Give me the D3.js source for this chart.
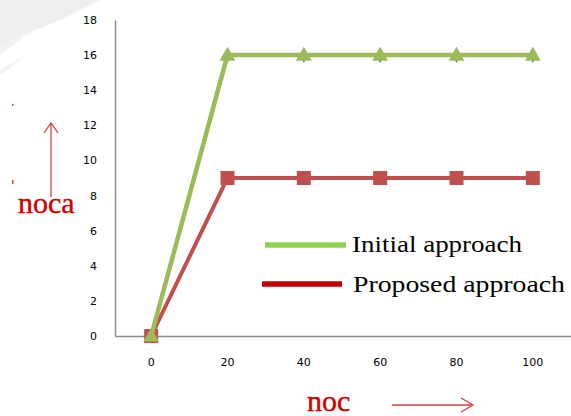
<!DOCTYPE html>
<html><head><meta charset="utf-8">
<script src="https://cdn.jsdelivr.net/npm/d3@7"></script>
<style>body{margin:0;background:#fff}svg{display:block}</style>
</head><body>
<svg id="c" width="571" height="416"></svg>
<script>
const categories = ["0","20","40","60","80","100"];
const hiddenSeries = [0,16,16,16,16,16];
const initialApproach = [0,16,16,16,16,16];
const proposedApproach = [0,9,9,9,9,9];
const yTicks = [0,2,4,6,8,10,12,14,16,18];

(function(){
const svg = d3.select("#c");
// page curl decoration
svg.append("path").attr("d","M0,0 L100,0 L60,20 L0,45 Z").attr("fill","#eeeeee");
svg.append("path").attr("d","M0,45 L30,30 L20,40 L0,55 Z").attr("fill","#f2f2f2");
svg.append("path").attr("d","M0,70 L25,55 L10,68 L0,75 Z").attr("fill","#f4f4f4");

const pL=115, pR=573, pT=20, pB=336;
const x = d3.scaleBand().domain(categories).range([pL,pR]);
const y = d3.scaleLinear().domain([0,18]).range([pB,pT]);
const cx = c => x(c)+x.bandwidth()/2 - 2;

// axes
const yAxis = svg.append("g").attr("transform",`translate(${pL},0)`)
  .call(d3.axisLeft(y).tickValues(yTicks).tickSize(0).tickPadding(18));
yAxis.select(".domain").attr("stroke","#8c8c8c").attr("stroke-width",1.5);
yAxis.selectAll("text").attr("font-family","'DejaVu Sans', sans-serif").attr("font-size",11).attr("fill","#000");
const xAxis = svg.append("g").attr("transform",`translate(0,${pB})`)
  .call(d3.axisBottom(x).tickSize(0).tickPadding(22));
xAxis.select(".domain").attr("stroke","#8c8c8c").attr("stroke-width",1.5);
xAxis.selectAll(".tick").attr("transform",d=>`translate(${cx(d)},0)`);
xAxis.selectAll("text").attr("font-family","'DejaVu Sans', sans-serif").attr("font-size",11).attr("fill","#000");

const line = d3.line().x((d,i)=>cx(categories[i])).y(d=>y(d));
// hidden blue series
svg.append("path").datum(hiddenSeries).attr("d",line).attr("fill","none").attr("stroke","#4F81BD").attr("stroke-width",3);
svg.selectAll(".dm").data(hiddenSeries).enter().append("path")
  .attr("transform",(d,i)=>`translate(${cx(categories[i])},${y(d)})`)
  .attr("d",d3.symbol(d3.symbolDiamond,70)).attr("fill","#4F81BD");

// proposed (red)
svg.append("path").datum(proposedApproach).attr("d",line).attr("fill","none").attr("stroke","#C0504D").attr("stroke-width",4);
svg.selectAll(".sq").data(proposedApproach).enter().append("rect")
  .attr("x",(d,i)=>cx(categories[i])-7).attr("y",d=>y(d)-7).attr("width",14).attr("height",14).attr("fill","#C0504D");

// initial (green)
svg.append("path").datum(initialApproach).attr("d",line).attr("fill","none").attr("stroke","#9BBB59").attr("stroke-width",4.5);
svg.selectAll(".tr").data(initialApproach).enter().append("path")
  .attr("transform",(d,i)=>`translate(${cx(categories[i])},${y(d)+1})`)
  .attr("d",d3.symbol(d3.symbolTriangle,110)).attr("fill","#9BBB59");

// legend
const serif = "'Liberation Serif', 'DejaVu Serif', serif";
svg.append("line").attr("x1",265).attr("x2",346).attr("y1",245).attr("y2",245).attr("stroke","#92D050").attr("stroke-width",5.5);
svg.append("text").attr("x",352).attr("y",252).text("Initial approach").attr("font-family",serif).attr("font-size",23)
  .attr("textLength",170).attr("lengthAdjust","spacingAndGlyphs").attr("fill","#000");
svg.append("line").attr("x1",262).attr("x2",342).attr("y1",284).attr("y2",284).attr("stroke","#C00000").attr("stroke-width",5.5);
svg.append("text").attr("x",353).attr("y",292).text("Proposed approach").attr("font-family",serif).attr("font-size",23)
  .attr("textLength",212).attr("lengthAdjust","spacingAndGlyphs").attr("fill","#000");

// axis titles with arrows
const red="#CC0000", ared="#D94040";
svg.append("text").attr("x",18).attr("y",213).text("noca").attr("font-family",serif).attr("font-size",30)
  .attr("fill",red).attr("stroke",red).attr("stroke-width",0.4);
svg.append("line").attr("x1",51).attr("x2",51).attr("y1",124).attr("y2",197).attr("stroke",ared).attr("stroke-width",1.3);
svg.append("path").attr("d","M44,133 L51,123 L58,133").attr("fill","none").attr("stroke",ared).attr("stroke-width",1.3);
svg.append("text").attr("x",307).attr("y",411).text("noc").attr("font-family",serif).attr("font-size",30)
  .attr("fill",red).attr("stroke",red).attr("stroke-width",0.4);
svg.append("line").attr("x1",392).attr("x2",473).attr("y1",405).attr("y2",405).attr("stroke",ared).attr("stroke-width",1.3);
svg.append("path").attr("d","M461,398 L473,405 L461,412").attr("fill","none").attr("stroke",ared).attr("stroke-width",1.3);
svg.append("rect").attr("x",12).attr("y",104).attr("width",1.5).attr("height",2).attr("fill",ared);
svg.append("rect").attr("x",12).attr("y",180).attr("width",1.5).attr("height",4).attr("fill",ared);
})();
</script>
</body></html>
